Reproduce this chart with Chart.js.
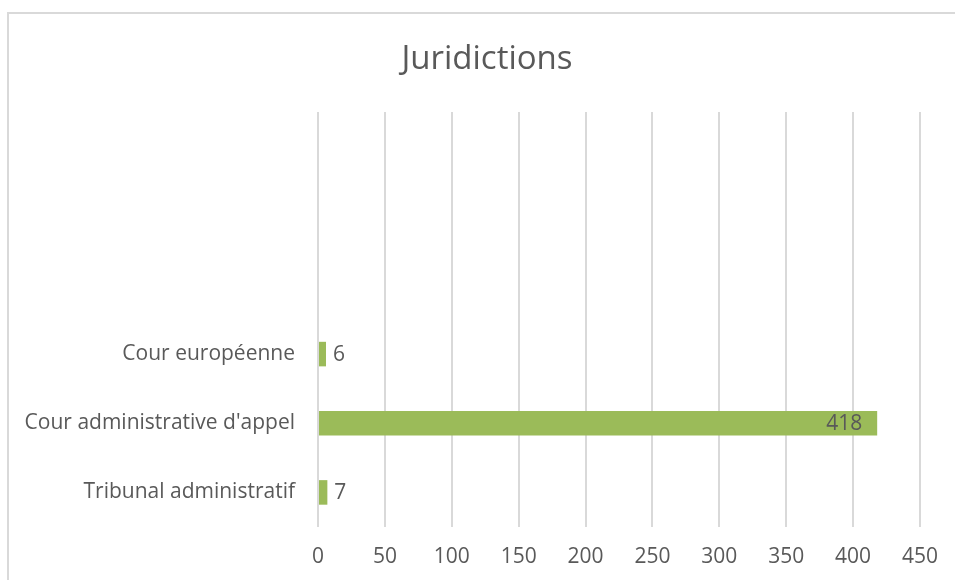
<!DOCTYPE html>
<html>
<head>
<meta charset="utf-8">
<script src="https://cdn.jsdelivr.net/npm/chart.js@4"></script>
<style>
  html, body { margin: 0; padding: 0; background: #fff; overflow: hidden; }
  #frame { position: absolute; left: 7px; top: 12px; width: 1000px; height: 600px; border: 2px solid #d9d9d9; }
  #wrap { position: absolute; left: 0; top: 0; width: 955px; height: 580px; }
  #title { position: absolute; left: 0; width: 974px; top: 34px; text-align: center;
           font: 33px 'Open Sans', sans-serif; color: #595959; line-height: 46px; }
</style>
</head>
<body>
<div id="frame"></div>
<div id="wrap"><canvas id="chart"></canvas></div>
<div id="title">Juridictions</div>
<script>
// categories top to bottom (the first three rows are empty in the source)
const categories = ['', '', '', 'Cour européenne', "Cour administrative d'appel", 'Tribunal administratif'];
const counts = [null, null, null, 6, 418, 7];
const xTicks = [0, 50, 100, 150, 200, 250, 300, 350, 400, 450];

const FONT = "'Open Sans', sans-serif";
const GREY = '#595959';

// value labels at the end of each bar; long bars get the label inside
const valueLabels = {
  id: 'valueLabels',
  afterDatasetsDraw(chart) {
    const ctx = chart.ctx;
    const meta = chart.getDatasetMeta(0);
    const area = chart.chartArea;
    ctx.save();
    ctx.font = '21px ' + FONT;
    ctx.fillStyle = GREY;
    ctx.textBaseline = 'middle';
    meta.data.forEach((bar, i) => {
      const v = counts[i];
      if (v == null) return;
      if (bar.x - area.left > (area.right - area.left) / 2) {
        ctx.textAlign = 'right';
        ctx.fillText(String(v), bar.x - 15, bar.y + 1);
      } else {
        ctx.textAlign = 'left';
        ctx.fillText(String(v), bar.x + 7, bar.y + 1);
      }
    });
    ctx.restore();
  }
};

new Chart(document.getElementById('chart'), {
  type: 'bar',
  data: {
    labels: categories,
    datasets: [{
      data: counts,
      backgroundColor: '#9bbb59',
      borderWidth: 0,
      categoryPercentage: 0.355,
      barPercentage: 1
    }]
  },
  options: {
    indexAxis: 'y',
    responsive: true,
    maintainAspectRatio: false,
    animation: false,
    layout: { padding: { left: 0, right: 35, top: 112, bottom: 0 } },
    plugins: {
      legend: { display: false },
      tooltip: { enabled: false },
      title: { display: false }
    },
    scales: {
      x: {
        min: 0,
        max: 450,
        afterBuildTicks(axis) { axis.ticks = xTicks.map(v => ({ value: v })); },
        afterFit(axis) { axis.height = 53; },
        grid: { color: '#d9d9d9', lineWidth: 2, drawTicks: false },
        border: { display: false },
        ticks: { color: GREY, font: { family: FONT, size: 21 }, padding: 17 }
      },
      y: {
        afterFit(axis) { axis.width = 318; },
        grid: { display: false, drawTicks: false },
        border: { display: false },
        ticks: { color: GREY, font: { family: FONT, size: 21 }, padding: 23, autoSkip: false }
      }
    }
  },
  plugins: [valueLabels]
});
</script>
</body>
</html>
